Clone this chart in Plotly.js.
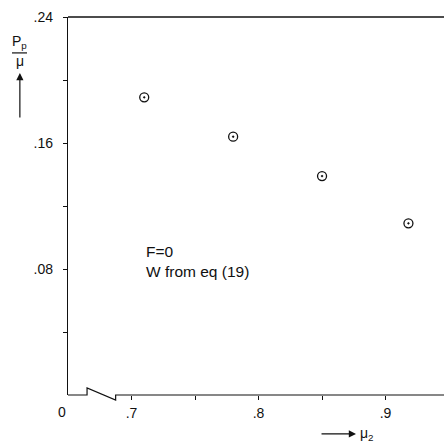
<!DOCTYPE html>
<html>
<head>
<meta charset="utf-8">
<script src="https://cdn.plot.ly/plotly-3.0.1.min.js"></script>
<style>html,body{margin:0;padding:0;background:#fff;}#chart{width:444px;height:442px;}</style>
</head>
<body>
<div id="chart"></div>
<script>
// Data
const mu2 = [0.71, 0.78, 0.85, 0.918];
const ppOverMu = [0.189, 0.164, 0.139, 0.109];

const xTickVals = [0.7, 0.75, 0.8, 0.85, 0.9];
const xTickText = ['.7', '', '.8', '', '.9'];
const yTickVals = [0.04, 0.08, 0.12, 0.16, 0.20, 0.24];
const yTickText = ['', '.08', '', '.16', '', '.24'];

const xMin = 0.65, xMax = 0.946;
const fontFam = 'Liberation Sans, Arial, sans-serif';

const trace = {
  x: mu2, y: ppOverMu, type: 'scatter', mode: 'markers',
  marker: {symbol: 'circle-open-dot', size: 9, color: '#111', line: {width: 1.3, color: '#111'}},
  showlegend: false, hoverinfo: 'skip'
};

// axis-break decoration on the x axis
const brk0 = 0.665, brk1 = 0.6875;
const layout = {
  width: 444, height: 442,
  margin: {l: 68, r: 0, t: 17, b: 47},
  paper_bgcolor: '#fff', plot_bgcolor: '#fff',
  font: {family: fontFam, size: 14, color: '#111'},
  xaxis: {
    range: [xMin, xMax], tickmode: 'array', tickvals: xTickVals, ticktext: xTickText,
    ticks: 'outside', ticklen: 4, tickwidth: 1, tickcolor: '#111',
    showline: false, zeroline: false, showgrid: false,
    ticklabelstandoff: 1, tickfont: {size: 14}
  },
  yaxis: {
    range: [0, 0.24], tickmode: 'array', tickvals: yTickVals, ticktext: yTickText,
    ticks: 'outside', ticklen: 4, tickwidth: 1, tickcolor: '#111',
    showline: true, linecolor: '#111', linewidth: 1.2, mirror: false,
    zeroline: false, showgrid: false, ticklabelstandoff: 7, tickfont: {size: 14}
  },
  shapes: [
    // top border
    {type: 'line', xref: 'paper', yref: 'paper', x0: 0, x1: 1, y0: 1, y1: 1, line: {color: '#111', width: 1.3}},
    // x axis line with break
    {type: 'path', xref: 'x', yref: 'paper', layer: 'above',
     path: `M ${xMin},0 L ${brk0},0 L ${brk0},0.0185 L ${brk1},-0.0135 L ${brk1},0 L ${xMax},0`,
     line: {color: '#111', width: 1.2}},
    // fraction bar in y title
    {type: 'line', xref: 'paper', yref: 'paper', x0: -0.149, x1: -0.109, y0: 0.905, y1: 0.905, line: {color: '#111', width: 1.2}}
  ],
  annotations: [
    {xref: 'paper', yref: 'paper', x: -0.016, y: -0.045, text: '0', showarrow: false, xanchor: 'center', yanchor: 'middle', font: {size: 14}},
    {xref: 'x', yref: 'y', x: 0.7095, y: 0.0845, text: 'F=0<br>W from eq (19)', showarrow: false, xanchor: 'left', yanchor: 'middle', align: 'left', font: {size: 15.5}},
    // y title
    {xref: 'paper', yref: 'paper', x: -0.128, y: 0.934, text: 'P<sub>p</sub>', showarrow: false, xanchor: 'center', yanchor: 'middle', font: {size: 14}},
    {xref: 'paper', yref: 'paper', x: -0.128, y: 0.884, text: 'μ', showarrow: false, xanchor: 'center', yanchor: 'middle', font: {size: 14}},
    {xref: 'paper', yref: 'paper', x: -0.128, y: 0.852, ax: 0, ay: 46, text: '', showarrow: true, arrowhead: 2, arrowsize: 1.2, arrowwidth: 1.2, arrowcolor: '#111'},
    // x title
    {xref: 'paper', yref: 'paper', x: 0.766, y: -0.103, ax: -36, ay: 0, text: '', showarrow: true, arrowhead: 2, arrowsize: 1.2, arrowwidth: 1.2, arrowcolor: '#111'},
    {xref: 'paper', yref: 'paper', x: 0.77, y: -0.103, text: 'μ<sub>2</sub>', showarrow: false, xanchor: 'left', yanchor: 'middle', font: {size: 14}}
  ]
};

Plotly.newPlot('chart', [trace], layout, {staticPlot: true, displayModeBar: false});
</script>
</body>
</html>
